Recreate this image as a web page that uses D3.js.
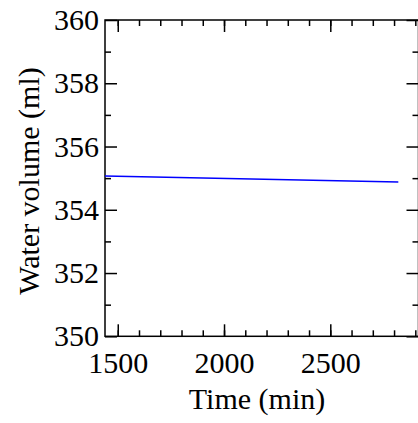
<!DOCTYPE html>
<html>
<head>
<meta charset="utf-8">
<script src="https://cdn.jsdelivr.net/npm/d3@7"></script>
<style>
  body { margin: 0; background: #fff; }
  svg { display: block; }
  svg text { font-family: "Liberation Serif", "Times New Roman", serif !important; }
</style>
</head>
<body>
<div id="app"></div>
<script>
// data
var times = [1440, 2820];            // min
var volumes = [355.07, 354.88];      // ml
var xMajor = [1500, 2000, 2500];
var xMinor = [1500, 1600, 1700, 1800, 1900, 2000, 2100, 2200, 2300, 2400, 2500, 2600, 2700, 2800, 2900];
var yMajor = [350, 352, 354, 356, 358, 360];
var yMinor = [351, 353, 355, 357, 359];

var svgWidth = 418, svgHeight = 423;
var plot = { left: 105, right: 418.5, top: 20, bottom: 336.3 };
var fontFamily = "Liberation Serif";
var fontSize = 30;

var svg = d3.select("#app").append("svg")
    .attr("width", svgWidth)
    .attr("height", svgHeight);

var x = d3.scaleLinear().domain([1440, 2915]).range([plot.left, plot.right]);
var y = d3.scaleLinear().domain([350, 360]).range([plot.bottom, plot.top]);

function styleAxis(g) {
    g.attr("font-family", fontFamily).attr("font-size", fontSize);
    g.select(".domain").remove();
    g.selectAll(".tick line").attr("stroke", "#000").attr("stroke-width", 1.5);
    g.selectAll(".tick text").attr("fill", "#000");
}

// bottom axis
svg.append("g").attr("transform", "translate(0," + plot.bottom + ")")
    .call(d3.axisBottom(x).tickValues(xMinor).tickSize(-6).tickFormat(""))
    .call(styleAxis);
svg.append("g").attr("transform", "translate(0," + plot.bottom + ")")
    .call(d3.axisBottom(x).tickValues(xMajor).tickSize(-12).tickPadding(15).tickFormat(d3.format("d")))
    .call(styleAxis);
// top axis
svg.append("g").attr("transform", "translate(0," + plot.top + ")")
    .call(d3.axisTop(x).tickValues(xMinor).tickSize(-6).tickFormat(""))
    .call(styleAxis);
svg.append("g").attr("transform", "translate(0," + plot.top + ")")
    .call(d3.axisTop(x).tickValues(xMajor).tickSize(-12).tickFormat(""))
    .call(styleAxis);
// left axis
svg.append("g").attr("transform", "translate(" + plot.left + ",0)")
    .call(d3.axisLeft(y).tickValues(yMinor).tickSize(-6).tickFormat(""))
    .call(styleAxis);
svg.append("g").attr("transform", "translate(" + plot.left + ",0)")
    .call(d3.axisLeft(y).tickValues(yMajor).tickSize(-12).tickPadding(6).tickFormat(d3.format("d")))
    .call(styleAxis);
// right axis
svg.append("g").attr("transform", "translate(" + plot.right + ",0)")
    .call(d3.axisRight(y).tickValues(yMinor).tickSize(-6).tickFormat(""))
    .call(styleAxis);
svg.append("g").attr("transform", "translate(" + plot.right + ",0)")
    .call(d3.axisRight(y).tickValues(yMajor).tickSize(-12).tickFormat(""))
    .call(styleAxis);

// frame
svg.append("rect")
    .attr("x", plot.left).attr("y", plot.top)
    .attr("width", plot.right - plot.left).attr("height", plot.bottom - plot.top)
    .attr("fill", "none").attr("stroke", "#000").attr("stroke-width", 1.5);

// data line
var line = d3.line()
    .x(function(d, i) { return x(times[i]); })
    .y(function(d) { return y(d); });
svg.append("path")
    .datum(volumes)
    .attr("d", line)
    .attr("fill", "none")
    .attr("stroke", "#0000ff")
    .attr("stroke-width", 1.5);

// axis titles
svg.append("text")
    .attr("x", 257).attr("y", 409)
    .attr("text-anchor", "middle")
    .attr("font-size", fontSize)
    .text("Time (min)");
svg.append("text")
    .attr("transform", "translate(39,181) rotate(-90)")
    .attr("text-anchor", "middle")
    .attr("font-size", fontSize)
    .text("Water volume (ml)");
</script>
</body>
</html>
